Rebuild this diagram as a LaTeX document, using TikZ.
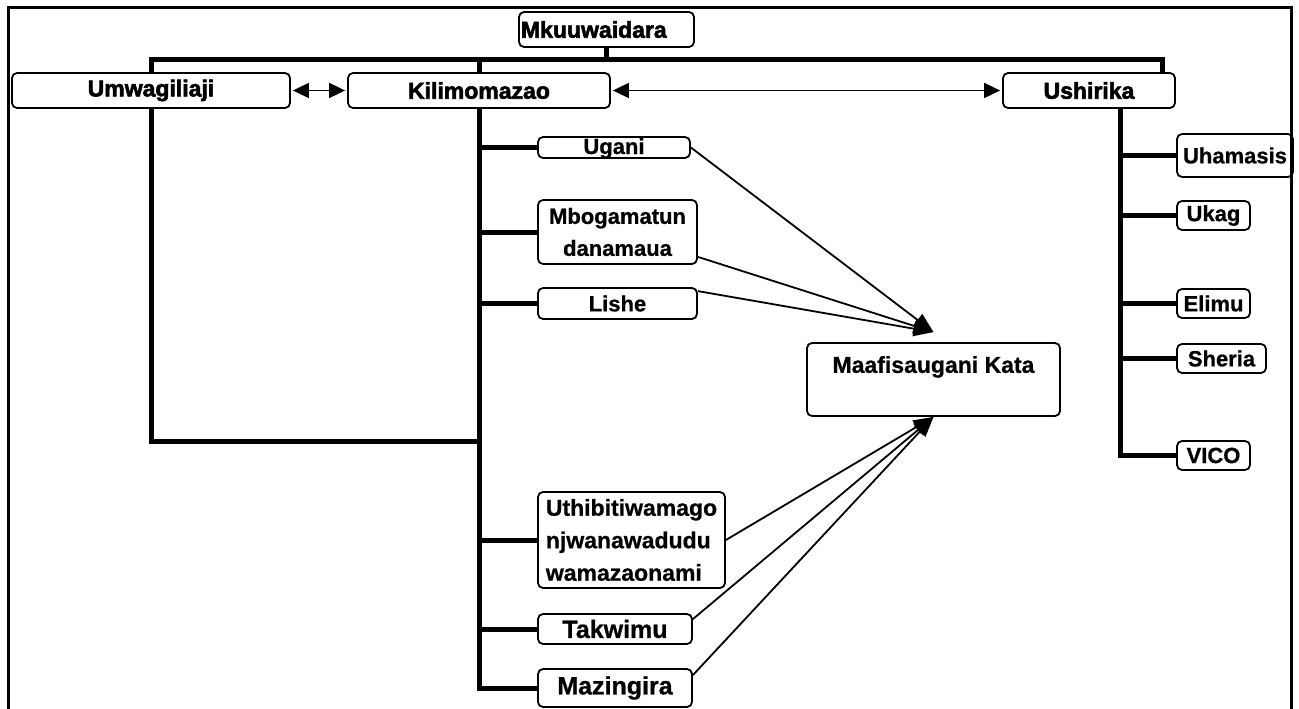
\documentclass[tikz,border=0pt]{standalone}
\usepackage{fontspec}
\setmainfont{Liberation Sans}[BoldFeatures={FakeBold=0.8}]
\newfontfamily\heavyfont{Liberation Sans}[BoldFeatures={FakeBold=2.5}]
\usetikzlibrary{arrows.meta}

\tikzset{
  box/.style={draw, rounded corners=5pt, line width=1.8pt, inner sep=1pt,
    font=\bfseries\fontsize{22}{32}\selectfont},
  topbox/.style={box, minimum height=35pt, font=\heavyfont\bfseries\fontsize{23}{28}\selectfont},
  bigbox/.style={box, font=\bfseries\fontsize{25}{30}\selectfont},
  bus/.style={line width=5pt},
  link/.style={line width=1.8pt, -{Triangle[length=20pt,width=15pt]}},
  both/.style={line width=1.8pt,
    {Triangle[length=16pt,width=15pt]}-{Triangle[length=16pt,width=15pt]},
    shorten <=2pt, shorten >=2pt},
}

\begin{document}
\begin{tikzpicture}[x=1pt,y=-1pt]
        \useasboundingbox (0,0) rectangle (1299,709);
        \draw[line width=3pt] (8,720) -- (8,8) -- (1291,8) -- (1291,720);

        % top row
        \node[topbox, text width=171pt, inner xsep=2pt, align=left] (mkuu) at (606.5,29.5) {Mkuuwaidara};
        \node[topbox, minimum width=278pt] (umwa) at (151,90.5) {Umwagiliaji};
        \node[topbox, minimum width=262pt] (kili) at (479,90.5) {Kilimomazao};
        \node[topbox, minimum width=172pt] (ushi) at (1089,90.5) {Ushirika};

        % kilimomazao units
        \node[box, minimum width=152pt, minimum height=21pt, text height=15pt, text depth=2pt, inner ysep=0pt] (ugani) at (614,147.5) {Ugani};
        \node[box, minimum width=159pt, minimum height=64pt, align=center] (mboga) at (617.5,232) {Mbogamatun\\danamaua};
        \node[box, minimum width=159pt, minimum height=31pt] (lishe) at (617.5,303.5) {Lishe};
        \node[box, minimum width=187pt, minimum height=96pt, align=left,
          font=\bfseries\fontsize{23}{32.5}\selectfont] (uthi) at (631.5,540) {Uthibitiwamago\\njwanawadudu\\wamazaonami};
        \node[bigbox, minimum width=154pt, minimum height=30pt] (takw) at (615,629) {Takwimu};
        \node[bigbox, minimum width=154pt, minimum height=38pt] (mazi) at (615,688) {Mazingira};

        \node[box, minimum width=253pt, minimum height=73pt, align=center,
          font=\bfseries\fontsize{23}{30}\selectfont] (maaf) at (933.5,379.5) {Maafisaugani Kata\\~};

        % ushirika units
        \node[box, minimum width=116pt, minimum height=43pt] (uham) at (1235,155.5) {Uhamasis};
        \node[box, minimum width=73pt, minimum height=29pt] (ukag) at (1213.5,215.5) {Ukag};
        \node[box, minimum width=73pt, minimum height=29pt] (elimu) at (1213.5,303.5) {Elimu};
        \node[box, minimum width=89pt, minimum height=29pt] (sheria) at (1221.5,358.5) {Sheria};
        \node[box, minimum width=73pt, minimum height=29pt] (vico) at (1213.5,455.5) {VICO};

        % lines
        \coordinate (busR) at (1162,60);
        \coordinate (lowL) at (0,441);
        \draw[bus] (umwa.north) -- (umwa.north |- busR) -- (busR) -- (busR |- ushi.north);
        \draw[bus] (mkuu.south) -- (mkuu.south |- busR);
        \draw[bus] (kili.north) -- (kili.north |- busR);
        \draw[bus] (umwa.south) |- (kili.south |- lowL);
        \draw[bus] (kili.south) |- (mazi.west);
        \foreach \n in {ugani,mboga,lishe,uthi,takw}
          \draw[bus] (kili.south |- \n.west) -- (\n.west);
        \draw[bus] ([xshift=31pt]ushi.south) |- (vico.west);
        \foreach \n in {uham,ukag,elimu,sheria}
          \draw[bus] ([xshift=31pt]ushi.south |- \n.west) -- (\n.west);

        \draw[both] (umwa.east) -- (kili.west);
        \draw[both] (kili.east) -- (ushi.west);

        % to maafisaugani
        \coordinate (tipT) at ([yshift=10pt]maaf.north);
        \draw[link] (ugani.east) -- (tipT);
        \draw[link] ([yshift=8pt]mboga.south east) -- (tipT);
        \draw[link] ([yshift=-4pt]lishe.north east) -- (tipT);
        \draw[link] (uthi.east) -- (maaf.south);
        \draw[link] ([yshift=-6pt]takw.north east) -- (maaf.south);
        \draw[link] ([yshift=-7pt]mazi.north east) -- (maaf.south);
\end{tikzpicture}
\end{document}
